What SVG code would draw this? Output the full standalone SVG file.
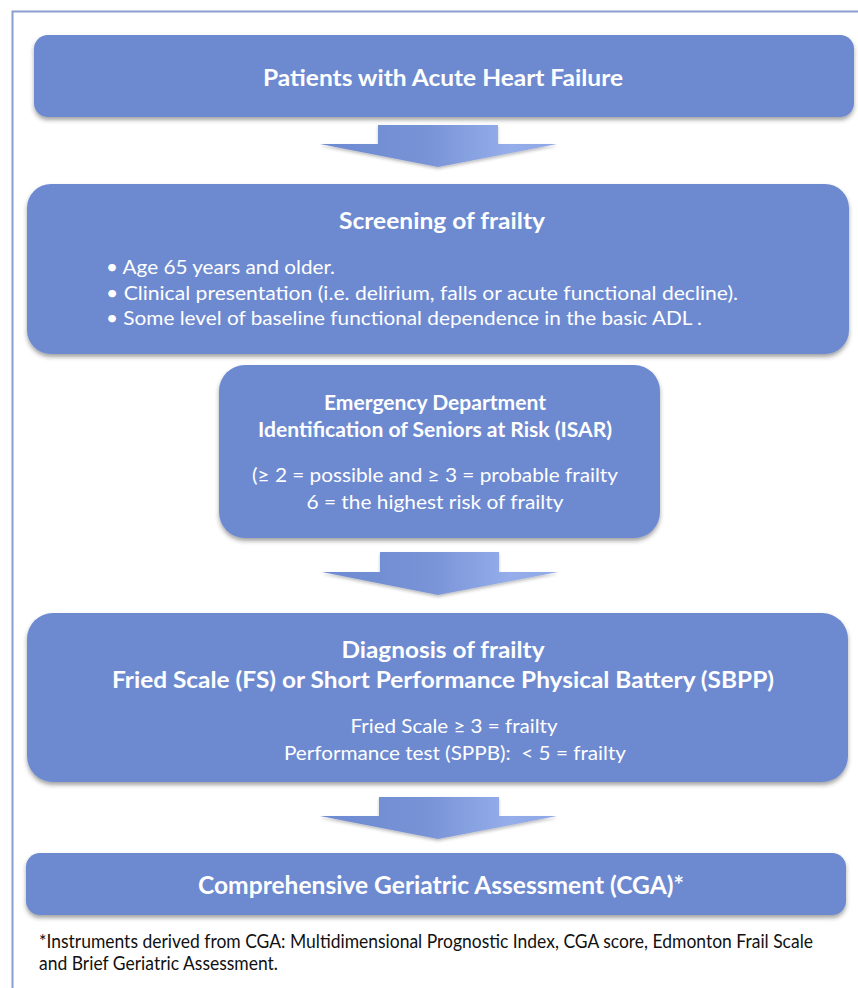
<svg xmlns="http://www.w3.org/2000/svg" width="858" height="988" viewBox="0 0 858 988">
<style>
.box{fill:#6d8ad1;filter:url(#sh)}
.arr{fill:url(#ag);filter:url(#sh2)}
.t{font-family:"Lato","Liberation Sans",sans-serif;fill:#ffffff;text-anchor:middle}
.b{font-weight:bold}
.l{text-anchor:start}
.fn{font-family:"Lato","Liberation Sans",sans-serif;fill:#111111;font-size:18.5px}
</style>
<defs>
<filter id="sh" x="-5%" y="-10%" width="110%" height="130%">
<feDropShadow dx="0" dy="3" stdDeviation="2" flood-color="#333" flood-opacity="0.45"/>
</filter>
<filter id="sh2" x="-5%" y="-10%" width="110%" height="130%">
<feDropShadow dx="0" dy="2" stdDeviation="1.5" flood-color="#333" flood-opacity="0.3"/>
</filter>
<linearGradient id="ag" x1="0" y1="0" x2="1" y2="0">
<stop offset="0" stop-color="#6d8ad1"/>
<stop offset="0.45" stop-color="#7893d6"/>
<stop offset="0.8" stop-color="#95adea"/>
<stop offset="1" stop-color="#8ea7e6"/>
</linearGradient>
</defs>
<rect width="858" height="988" fill="#ffffff"/>
<path d="M12.5,988 V11.5 H858" fill="none" stroke="#8a9fd0" stroke-width="2"/>

<g id="connectors">
<path class="arr" d="M378,125 H498 V144 H557 L438,167 L320,144 H378 Z"/>
<path class="arr" d="M380,552 H499 V572 H558 L438,595 L322,572 H380 Z"/>
<path class="arr" d="M379,797 H499 V816 H557 L438,839 L320,816 H379 Z"/>
</g>

<g id="n1">
<rect class="box" x="34" y="35" width="820" height="82" rx="14"/>
<text class="t b" x="443" y="86" font-size="23" textLength="360" lengthAdjust="spacingAndGlyphs">Patients with Acute Heart Failure</text>
</g>

<g id="n2">
<rect class="box" x="27" y="184" width="822" height="170" rx="24"/>
<text class="t b" x="442" y="229" font-size="23" textLength="206" lengthAdjust="spacingAndGlyphs">Screening of frailty</text>
<text class="t l" x="106" y="274" font-size="20" textLength="229" lengthAdjust="spacingAndGlyphs">• Age 65 years and older.</text>
<text class="t l" x="106" y="300" font-size="20" textLength="632" lengthAdjust="spacingAndGlyphs">• Clinical presentation (i.e. delirium, falls or acute functional decline).</text>
<text class="t l" x="106" y="325" font-size="20" textLength="596" lengthAdjust="spacingAndGlyphs">• Some level of baseline functional dependence in the basic ADL .</text>
</g>

<g id="n3">
<rect class="box" x="219" y="365" width="441" height="173" rx="26"/>
<text class="t b" x="435" y="410" font-size="20" textLength="222" lengthAdjust="spacingAndGlyphs">Emergency Department</text>
<text class="t b" x="435" y="437" font-size="20" textLength="354" lengthAdjust="spacingAndGlyphs">Identification of Seniors at Risk (ISAR)</text>
<text class="t" x="435" y="482" font-size="20" textLength="366" lengthAdjust="spacingAndGlyphs">(≥ 2 = possible and ≥ 3 = probable frailty</text>
<text class="t" x="435" y="509" font-size="20" textLength="257" lengthAdjust="spacingAndGlyphs">6 = the highest risk of frailty</text>
</g>

<g id="n4">
<rect class="box" x="27" y="613" width="821" height="169" rx="26"/>
<text class="t b" x="443" y="658" font-size="23" textLength="203" lengthAdjust="spacingAndGlyphs">Diagnosis of frailty</text>
<text class="t b" x="443" y="688" font-size="23" textLength="662" lengthAdjust="spacingAndGlyphs">Fried Scale (FS) or Short Performance Physical Battery (SBPP)</text>
<text class="t" x="454" y="733" font-size="20" textLength="207" lengthAdjust="spacingAndGlyphs">Fried Scale ≥ 3 = frailty</text>
<text class="t" x="455" y="760" font-size="20" textLength="342" lengthAdjust="spacingAndGlyphs" xml:space="preserve">Performance test (SPPB):  &lt; 5 = frailty</text>
</g>

<g id="n5">
<rect class="box" x="26" y="853" width="820" height="62" rx="14"/>
<text class="t b" x="441" y="894" font-size="25" textLength="486" lengthAdjust="spacingAndGlyphs">Comprehensive Geriatric Assessment (CGA)*</text>
</g>

<g id="footnote">
<text class="fn" x="39" y="948" textLength="774" lengthAdjust="spacingAndGlyphs">*Instruments derived from CGA: Multidimensional Prognostic Index, CGA score, Edmonton Frail Scale</text>
<text class="fn" x="39" y="970" textLength="239" lengthAdjust="spacingAndGlyphs">and Brief Geriatric Assessment.</text>
</g>
</svg>
